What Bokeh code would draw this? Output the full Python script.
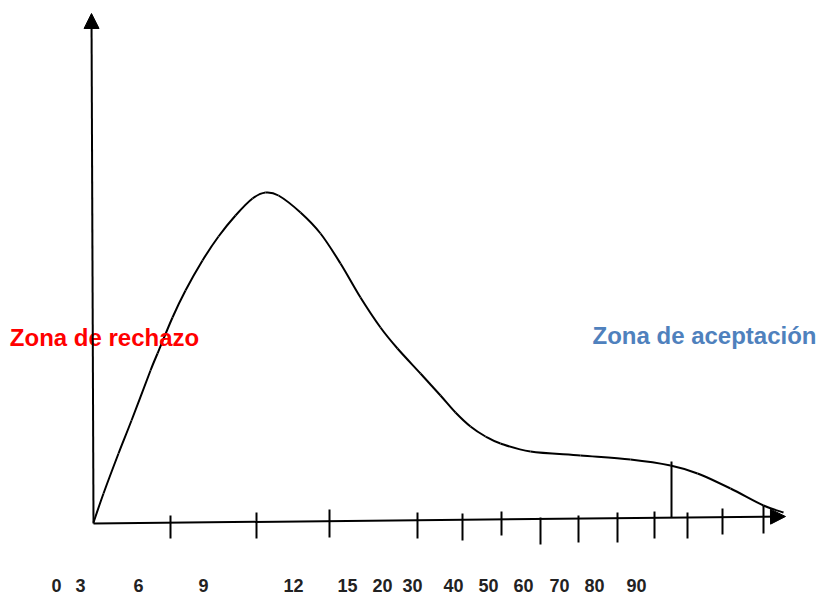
from bokeh.plotting import figure
from bokeh.models import Range1d, Arrow, NormalHead, ColumnDataSource
from bokeh.core.properties import value
from bokeh.embed import file_html
from bokeh.resources import INLINE

# ---- data (in drawing units) ----
tick_labels = ["0", "3", "6", "9", "12", "15", "20", "30", "40", "50", "60", "70", "80", "90"]
label_x = [56, 80, 138, 203, 293, 347, 382, 412, 453, 488, 523, 559, 594, 636]

tick_x = [170, 256, 329, 417, 462, 501, 540, 578, 617, 654, 687, 722, 763]
tick_top = [515, 512, 509, 512, 513, 511, 517, 515, 512, 511, 512, 508, 505]
tick_bottom = [538, 538, 537, 538, 540, 535, 544, 542, 542, 538, 538, 534, 533]

curve_x = [93, 103, 118, 131, 150, 157, 172, 185, 202, 218, 235, 252, 265, 278, 300,
           320, 340, 360, 380, 397, 420, 440, 455, 470, 485, 500, 530, 580, 630,
           670, 697, 730, 763, 783]
curve_y = [522, 493, 453, 420, 370, 353, 317, 290, 260, 236, 215, 198, 192, 195, 212,
           233, 263, 297, 327, 348, 373, 395, 412, 426, 436, 443, 451, 455, 459,
           465, 473, 488, 505, 512]

zone_labels = ["Zona de rechazo", "Zona de aceptación"]
zone_x = [104, 704]
zone_y = [337, 335]
zone_colors = ["#FF0000", "#4F81BD"]

# ---- smooth drawing of the read curve (Catmull-Rom -> cubic Bezier segments) ----
n = len(curve_x)
bx0, by0, bx1, by1, bcx0, bcy0, bcx1, bcy1 = [], [], [], [], [], [], [], []
for i in range(n - 1):
    xp, yp = curve_x[max(i - 1, 0)], curve_y[max(i - 1, 0)]
    xa, ya = curve_x[i], curve_y[i]
    xb, yb = curve_x[i + 1], curve_y[i + 1]
    xn, yn = curve_x[min(i + 2, n - 1)], curve_y[min(i + 2, n - 1)]
    bx0.append(xa); by0.append(ya); bx1.append(xb); by1.append(yb)
    bcx0.append(xa + (xb - xp) / 6.0); bcy0.append(ya + (yb - yp) / 6.0)
    bcx1.append(xb - (xn - xa) / 6.0); bcy1.append(yb - (yn - ya) / 6.0)

# ---- figure in page-pixel units (Bokeh's page template has no body margin) ----
p = figure(width=818, height=596, output_backend="svg", toolbar_location=None,
           x_range=Range1d(0, 818), y_range=Range1d(596, 0),
           min_border=0, background_fill_color="white", border_fill_color="white")
p.axis.visible = False
p.grid.visible = False
p.outline_line_color = None

# axes with arrow heads
p.add_layout(Arrow(end=NormalHead(size=15, fill_color="black", line_color="black", line_width=1),
                   x_start=93, y_start=523, x_end=91, y_end=13,
                   line_width=2, line_color="black"))
p.add_layout(Arrow(end=NormalHead(size=15, fill_color="black", line_color="black", line_width=1),
                   x_start=93, y_start=523, x_end=785, y_end=516,
                   line_width=2, line_color="black"))

# tick marks
p.segment(x0=tick_x, y0=tick_top, x1=tick_x, y1=tick_bottom, line_color="black", line_width=2)

# boundary between zones
p.segment(x0=[671], y0=[461], x1=[671], y1=[517], line_color="black", line_width=2)

# curve
p.bezier(x0=bx0, y0=by0, x1=bx1, y1=by1, cx0=bcx0, cy0=bcy0, cx1=bcx1, cy1=bcy1,
         line_color="black", line_width=2)

# tick labels
p.text(x=label_x, y=[585] * len(label_x), text=tick_labels,
       text_font=value("Liberation Sans"), text_font_style="bold",
       text_font_size="18px", text_color="#222222",
       text_align="center", text_baseline="middle")

# zone labels
src = ColumnDataSource(dict(x=zone_x, y=zone_y, t=zone_labels, c=zone_colors))
p.text(x="x", y="y", text="t", text_color="c", source=src,
       text_font=value("Liberation Sans"), text_font_style="bold",
       text_font_size="24px", text_align="center", text_baseline="middle")

open("out.html", "w").write(file_html(p, INLINE))
